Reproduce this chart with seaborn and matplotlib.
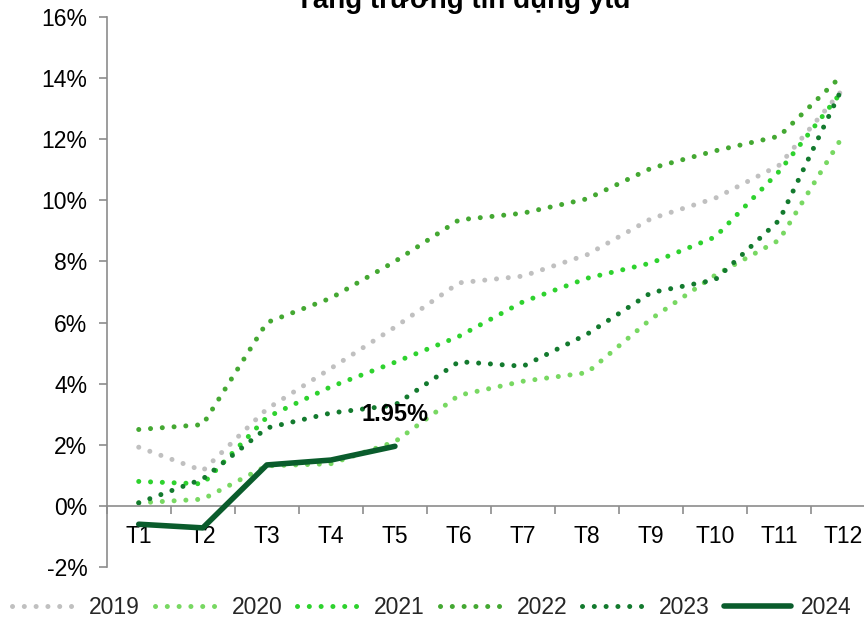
import numpy as np
import pandas as pd
import matplotlib
matplotlib.use("Agg")
import matplotlib.pyplot as plt
import seaborn as sns

# Monthly year-to-date credit growth (%)
months = ["T1", "T2", "T3", "T4", "T5", "T6", "T7", "T8", "T9", "T10", "T11", "T12"]
y2019 = [1.92, 1.15, 3.17, 4.50, 5.85, 7.30, 7.52, 8.22, 9.40, 10.07, 11.15, 13.65]
y2020 = [0.10, 0.22, 1.31, 1.38, 2.10, 3.62, 4.08, 4.36, 6.12, 7.55, 8.70, 12.13]
y2021 = [0.80, 0.72, 2.90, 3.90, 4.70, 5.55, 6.68, 7.45, 7.95, 8.80, 10.95, 13.62]
y2022 = [2.50, 2.66, 6.00, 6.80, 8.00, 9.36, 9.58, 10.05, 11.05, 11.62, 12.10, 14.13]
y2023 = [0.10, 0.88, 2.55, 3.04, 3.30, 4.72, 4.57, 5.62, 6.98, 7.40, 9.35, 13.75]
y2024 = [-0.60, -0.72, 1.34, 1.50, 1.95]

series = {
    "2019": (y2019, "#c0c0c0", "dot"),
    "2020": (y2020, "#78d862", "dot"),
    "2021": (y2021, "#2ed22e", "dot"),
    "2022": (y2022, "#44a832", "dot"),
    "2023": (y2023, "#137a2e", "dot"),
    "2024": (y2024, "#0a5c2c", "solid"),
}

sns.set_theme(style="white")
plt.rcParams["font.family"] = ["Liberation Sans", "DejaVu Sans"]

fig = plt.figure(figsize=(8.64, 6.21), dpi=100)
ax = fig.add_axes([0.1235, 0.08696, 0.8896, 0.88567])

for name, (vals, color, kind) in series.items():
    df = pd.DataFrame({"month": np.arange(len(vals)), "growth": vals})
    if kind == "dot":
        sns.lineplot(data=df, x="month", y="growth", ax=ax, sort=False,
                     estimator=None, color=color, lw=3.6,
                     linestyle=(0, (0.01, 2.35)), dash_capstyle="round",
                     label=name)
    else:
        sns.lineplot(data=df, x="month", y="growth", ax=ax, sort=False,
                     estimator=None, color=color, lw=4.0,
                     solid_capstyle="round", solid_joinstyle="round",
                     label=name, zorder=5)

# value label on the latest point
ax.annotate(f"{y2024[-1]:.2f}%", xy=(len(y2024) - 1, y2024[-1]),
            xytext=(0, 23), textcoords="offset points",
            ha="center", va="center", fontsize=17, fontweight="bold",
            color="black", zorder=6)

# axes ranges and ticks
ax.set_xlim(-0.5, len(months) - 0.5)
ax.set_ylim(-2, 16)
ax.set_yticks(np.arange(-2, 17, 2))
ax.set_yticklabels([f"{v}%" for v in range(-2, 17, 2)])
ax.set_xticks(np.arange(-0.5, len(months), 1.0))
ax.set_xticklabels([])
ax.set_xticks(np.arange(len(months)), minor=True)
ax.set_xticklabels(months, minor=True)
ax.set_xlabel("")
ax.set_ylabel("")

axis_color = "#8c8c8c"
for side in ["top", "right"]:
    ax.spines[side].set_visible(False)
ax.spines["left"].set_color(axis_color)
ax.spines["left"].set_linewidth(1.2)
ax.spines["bottom"].set_position(("data", 0))
ax.spines["bottom"].set_color(axis_color)
ax.spines["bottom"].set_linewidth(1.2)

ax.tick_params(axis="y", which="major", direction="out", length=6, width=1.2,
               color=axis_color, labelsize=16.5, labelcolor="black", pad=8,
               left=True)
ax.tick_params(axis="x", which="major", direction="out", length=6, width=1.2,
               color=axis_color, bottom=True)
ax.tick_params(axis="x", which="minor", length=0, labelsize=16.5,
               labelcolor="black", pad=14, bottom=True)
ax.grid(False)

# legend along the bottom
handles, labels = ax.get_legend_handles_labels()
ax.legend(handles, labels, loc="center", bbox_to_anchor=(0.5, 0.0225),
          bbox_transform=fig.transFigure, ncol=6, frameon=False,
          fontsize=16.5, handlelength=2.9, handletextpad=0.45,
          columnspacing=0.65, borderaxespad=0, borderpad=0)

fig.text(0.536, 0.987, "Tăng trưởng tín dụng ytd", ha="center",
         va="baseline", fontsize=20, fontweight="bold", color="black")

fig.savefig("out.png", dpi=100)
